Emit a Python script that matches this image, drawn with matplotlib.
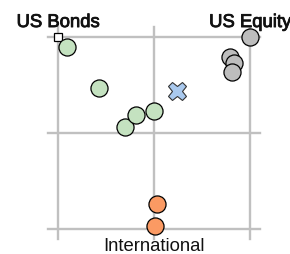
import matplotlib.pyplot as plt
import matplotlib.patheffects as pe

plt.rcParams['font.family'] = ['Liberation Sans', 'DejaVu Sans']

# corner labels (x, y in unit square)
corner_names = ["US Bonds", "US Equity", "International"]
corner_x = [0.0, 1.0, 0.5]
corner_y = [1.0, 1.0, 0.0]

# portfolios
green_x = [0.045, 0.215, 0.349, 0.406, 0.502]
green_y = [0.950, 0.734, 0.531, 0.594, 0.615]
grey_x = [1.0, 0.896, 0.917, 0.905]
grey_y = [1.0, 0.894, 0.863, 0.816]
orange_x = [0.514, 0.505]
orange_y = [0.130, 0.017]
blue_x = [0.620]
blue_y = [0.719]

grid_pos = [0.0, 0.5, 1.0]

fig = plt.figure(figsize=(2.9, 2.55), dpi=100)
ax = fig.add_axes([0, 0, 1, 1])
ax.set_xlim(-0.302, 1.208)
ax.set_ylim(-0.130, 1.198)
ax.axis('off')

ext = 0.052
for g in grid_pos:
    ax.plot([g, g], [-ext, 1 + ext], color='#c0c0c0', lw=1.7, zorder=1)
    ax.plot([-ext, 1 + ext], [g, g], color='#c0c0c0', lw=1.7, zorder=1)

ax.plot(corner_x, corner_y, 's', ls='none', ms=6, mfc='white', mec='black', mew=0.9, zorder=2)

circ = dict(ls='none', marker='o', ms=12.3, mec='black', mew=0.9, zorder=3)
ax.plot(green_x, green_y, mfc='#c4e2c0', **circ)
ax.plot(grey_x, grey_y, mfc='#bdbdbd', **circ)
ax.plot(orange_x, orange_y, mfc='#fb9a63', **circ)
ax.plot(blue_x, blue_y, ls='none', marker='X', ms=13, mfc='#a9c9ee', mec='#333333', mew=0.8, zorder=4)

# top labels look doubled (slightly heavier) in the original
stroke = [pe.withStroke(linewidth=0.6, foreground='#111111')]
ax.text(corner_x[0], 1.052, corner_names[0], ha='center', va='baseline', fontsize=13.3,
        color='#111111', path_effects=stroke)
ax.text(corner_x[1], 1.052, corner_names[1], ha='center', va='baseline', fontsize=13.3,
        color='#111111', path_effects=stroke)
ax.text(corner_x[2], -0.109, corner_names[2], ha='center', va='baseline', fontsize=13.3,
        color='#111111')

fig.savefig('out.png', dpi=100)
